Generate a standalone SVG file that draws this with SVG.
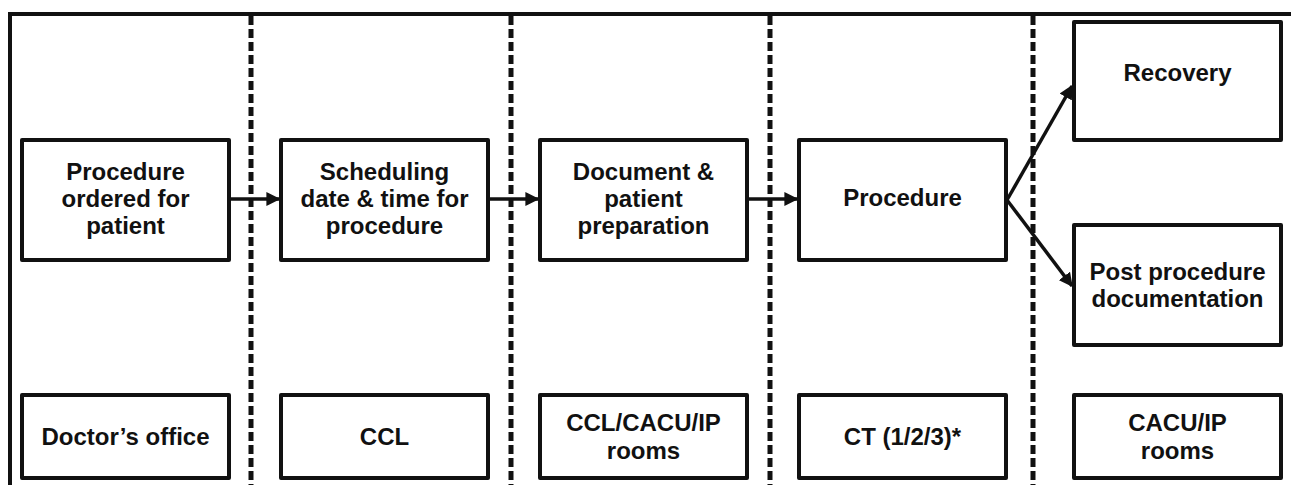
<svg xmlns="http://www.w3.org/2000/svg" width="1291" height="485" viewBox="0 0 1291 485">
  <defs>
    <marker id="arr" markerWidth="4" markerHeight="4" refX="3.6" refY="2" orient="auto" markerUnits="strokeWidth">
      <path d="M0,0 L4,2 L0,4 Z" fill="#111"/>
    </marker>
    <style>
      .box { fill: #fff; stroke: #111; stroke-width: 4; stroke-linejoin: round; }
      .lbl { font-family: "Liberation Sans", Arial, sans-serif; font-weight: bold; font-size: 24px; fill: #111; text-anchor: middle; }
      .frame { fill: none; stroke: #111; stroke-width: 4; }
      .lane { fill: none; stroke: #111; stroke-width: 5; stroke-dasharray: 9 4; }
      .conn { fill: none; stroke: #111; stroke-width: 3.5; marker-end: url(#arr); }
    </style>
  </defs>
  <rect x="0" y="0" width="1291" height="485" fill="#fff"/>

  <g id="frame">
    <path class="frame" d="M10,485 L10,14 L1291,14"/>
    <line class="lane" x1="251" y1="16" x2="251" y2="485"/>
    <line class="lane" x1="511" y1="16" x2="511" y2="485"/>
    <line class="lane" x1="770" y1="16" x2="770" y2="485"/>
    <line class="lane" x1="1033" y1="16" x2="1033" y2="485"/>
  </g>

  <g id="connectors">
    <line class="conn" x1="229" y1="199" x2="279" y2="199"/>
    <line class="conn" x1="488" y1="199" x2="538" y2="199"/>
    <line class="conn" x1="747" y1="199" x2="797" y2="199"/>
    <line class="conn" x1="1007" y1="200" x2="1072" y2="86"/>
    <line class="conn" x1="1007" y1="200" x2="1072" y2="286"/>
  </g>

  <g id="n1">
    <rect class="box" x="22" y="140" width="207" height="120"/>
    <text class="lbl" x="125.5" y="180">Procedure</text>
    <text class="lbl" x="125.5" y="207">ordered for</text>
    <text class="lbl" x="125.5" y="234">patient</text>
  </g>
  <g id="n2">
    <rect class="box" x="281" y="140" width="207" height="120"/>
    <text class="lbl" x="384.5" y="180">Scheduling</text>
    <text class="lbl" x="384.5" y="207">date &amp; time  for</text>
    <text class="lbl" x="384.5" y="234">procedure</text>
  </g>
  <g id="n3">
    <rect class="box" x="540" y="140" width="207" height="120"/>
    <text class="lbl" x="643.5" y="180">Document &amp;</text>
    <text class="lbl" x="643.5" y="207">patient</text>
    <text class="lbl" x="643.5" y="234">preparation</text>
  </g>
  <g id="n4">
    <rect class="box" x="799" y="140" width="207" height="120"/>
    <text class="lbl" x="902.5" y="206">Procedure</text>
  </g>
  <g id="n5">
    <rect class="box" x="1074" y="22" width="207" height="118"/>
    <text class="lbl" x="1177.5" y="81">Recovery</text>
  </g>
  <g id="n6">
    <rect class="box" x="1074" y="225" width="207" height="120"/>
    <text class="lbl" x="1177.5" y="280">Post procedure</text>
    <text class="lbl" x="1177.5" y="307">documentation</text>
  </g>

  <g id="loc1">
    <rect class="box" x="22" y="395" width="207" height="83"/>
    <text class="lbl" x="125.5" y="445">Doctor’s office</text>
  </g>
  <g id="loc2">
    <rect class="box" x="281" y="395" width="207" height="83"/>
    <text class="lbl" x="384.5" y="445">CCL</text>
  </g>
  <g id="loc3">
    <rect class="box" x="540" y="395" width="207" height="83"/>
    <text class="lbl" x="643.5" y="431">CCL/CACU/IP</text>
    <text class="lbl" x="643.5" y="459">rooms</text>
  </g>
  <g id="loc4">
    <rect class="box" x="799" y="395" width="207" height="83"/>
    <text class="lbl" x="902.5" y="445">CT (1/2/3)*</text>
  </g>
  <g id="loc5">
    <rect class="box" x="1074" y="395" width="207" height="83"/>
    <text class="lbl" x="1177.5" y="431">CACU/IP</text>
    <text class="lbl" x="1177.5" y="459">rooms</text>
  </g>
</svg>
